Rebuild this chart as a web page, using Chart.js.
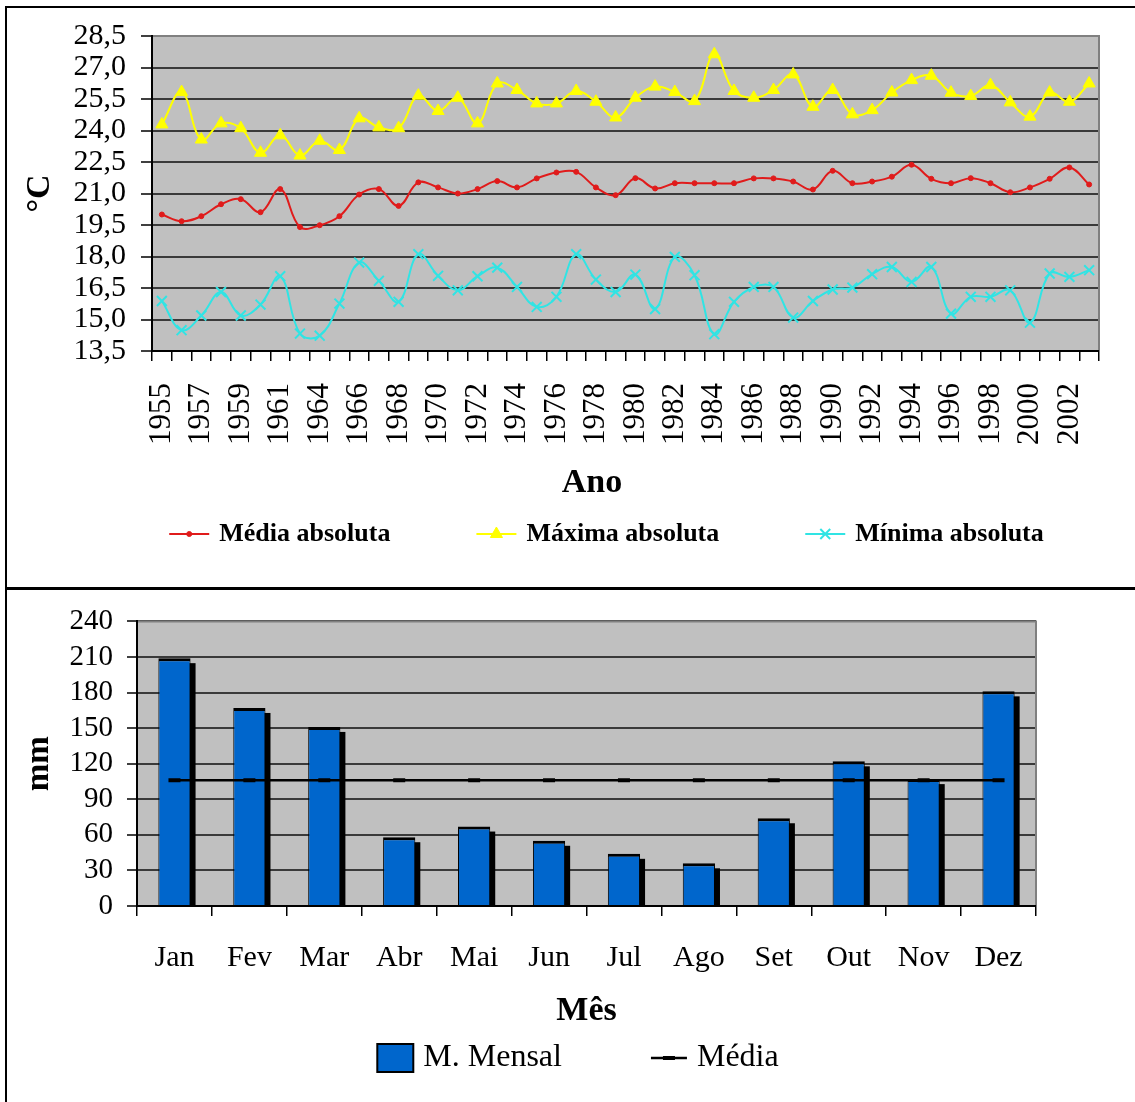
<!DOCTYPE html>
<html>
<head>
<meta charset="utf-8">
<script src="https://cdn.jsdelivr.net/npm/chart.js"></script>
<style>
html,body{margin:0;padding:0;background:#fff;width:1135px;height:1102px;overflow:hidden;position:relative;}
canvas{position:absolute;left:0;}
#c1{top:0;}
#c2{top:590px;}
.ln{position:absolute;background:#000;z-index:5;}
</style>
</head>
<body>
<canvas id="c1" width="1135" height="589" style="width:1135px;height:589px"></canvas>
<canvas id="c2" width="1135" height="512" style="width:1135px;height:512px"></canvas>
<div class="ln" style="left:5px;top:6px;width:1130px;height:2px"></div>
<div class="ln" style="left:5px;top:6px;width:2px;height:1096px"></div>
<div class="ln" style="left:5px;top:587px;width:1130px;height:3px"></div>
<script>
// ---------- data ----------
const years = [1955,1956,1957,1958,1959,1960,1961,1963,1964,1965,1966,1967,1968,1969,1970,1971,1972,1973,1974,1975,1976,1977,1978,1979,1980,1981,1982,1983,1984,1985,1986,1987,1988,1989,1990,1991,1992,1993,1994,1995,1996,1997,1998,1999,2000,2001,2002,2003];
const mediaAbsoluta = [20.00,19.68,19.92,20.49,20.73,20.11,21.21,19.40,19.49,19.92,20.95,21.21,20.41,21.53,21.29,21.00,21.21,21.59,21.29,21.72,22.00,22.03,21.29,20.92,21.73,21.24,21.49,21.49,21.49,21.49,21.72,21.72,21.57,21.19,22.08,21.49,21.57,21.80,22.37,21.70,21.49,21.73,21.49,21.06,21.29,21.70,22.24,21.43];
const maximaAbsoluta = [24.29,25.83,23.57,24.34,24.11,22.94,23.77,22.81,23.51,23.07,24.58,24.15,24.11,25.66,24.93,25.56,24.34,26.24,25.93,25.29,25.29,25.88,25.37,24.62,25.56,26.09,25.83,25.40,27.63,25.88,25.56,25.93,26.67,25.13,25.93,24.77,24.97,25.81,26.40,26.61,25.80,25.64,26.16,25.34,24.66,25.81,25.37,26.24];
const minimaAbsoluta = [15.88,14.49,15.19,16.31,15.19,15.71,17.06,14.33,14.23,15.76,17.71,16.84,15.84,18.11,17.08,16.39,17.06,17.47,16.55,15.60,16.08,18.11,16.90,16.31,17.14,15.50,17.98,17.11,14.30,15.84,16.55,16.55,15.09,15.88,16.43,16.52,17.16,17.50,16.79,17.50,15.28,16.08,16.08,16.39,14.85,17.19,17.03,17.35];
const tempTicks = ['13,5','15,0','16,5','18,0','19,5','21,0','22,5','24,0','25,5','27,0','28,5'];

const months = ['Jan','Fev','Mar','Abr','Mai','Jun','Jul','Ago','Set','Out','Nov','Dez'];
const mensal = [209,167,151,58,67,55,44,36,74,122,107,181];
const mediaMensal = [106,106,106,106,106,106,106,106,106,106,106,106];
const rainTicks = ['0','30','60','90','120','150','180','210','240'];

// ---------- style ----------
const SERIF = "'Liberation Serif', 'Times New Roman', serif";
Chart.defaults.font.family = SERIF;
Chart.defaults.color = '#000';
const RED = '#e01b1b', YEL = '#ffff00', CYA = '#30e4e4', BLUE = '#0066cc';
const GRID = '#3a3a3a';

// ---------- plugins ----------
const plotBg = {
  id: 'plotBg',
  beforeDraw(chart, args, o) {
    const {ctx, chartArea: a} = chart;
    ctx.save(); ctx.fillStyle = o.color; ctx.fillRect(a.left, a.top, a.width, a.height); ctx.restore();
  },
  beforeDatasetsDraw(chart, args, o) {
    const {ctx, chartArea: a} = chart;
    ctx.save(); ctx.strokeStyle = o.border; ctx.lineWidth = 2;
    ctx.beginPath(); ctx.moveTo(a.left + 1, a.top); ctx.lineTo(a.right, a.top); ctx.lineTo(a.right, a.bottom - 1); ctx.stroke();
    ctx.restore();
  }
};
const nudge = {
  id: 'nudge',
  afterLayout(chart, args, o) {
    const lg = chart.legend;
    if (lg && o.legendDx) { lg.left += o.legendDx; lg.right += o.legendDx; }
    const tb = chart.titleBlock;
    if (tb && o.titleDx) { tb.left += o.titleDx; tb.right += o.titleDx; }
  }
};
const hideBoxes = (chart) => Chart.defaults.plugins.legend.labels.generateLabels(chart)
  .map(l => Object.assign(l, {fillStyle: 'rgba(0,0,0,0)', strokeStyle: 'rgba(0,0,0,0)', lineWidth: 0}));
const legendSymbols = {
  id: 'legendSymbols',
  afterDraw(chart, args, o) {
    const lg = chart.legend;
    if (!lg || !lg.legendHitBoxes || !lg.legendItems) return;
    const lab = lg.options.labels;
    const fs = Chart.helpers.toFont(lab.font).size;
    const ctx = chart.ctx;
    lg.legendItems.forEach((item, i) => {
      const hb = lg.legendHitBoxes[i];
      if (!hb) return;
      const ds = chart.data.datasets[item.datasetIndex];
      const meta = chart.getDatasetMeta(item.datasetIndex);
      const textX = hb.left + lab.boxWidth + fs / 2;
      const x2 = textX - o.gap, x1 = x2 - o.width, cx = (x1 + x2) / 2, cy = hb.top + hb.height / 2;
      ctx.save();
      if (meta.type === 'bar') {
        ctx.fillStyle = ds.backgroundColor;
        ctx.fillRect(x1, cy - o.height / 2, o.width, o.height);
        ctx.strokeStyle = '#000'; ctx.lineWidth = 2;
        ctx.strokeRect(x1, cy - o.height / 2, o.width, o.height);
      } else {
        ctx.strokeStyle = ds.borderColor; ctx.lineWidth = ds.borderWidth;
        ctx.beginPath(); ctx.moveTo(x1, cy); ctx.lineTo(x2, cy); ctx.stroke();
        ctx.fillStyle = ds.pointBackgroundColor; ctx.strokeStyle = ds.pointBorderColor; ctx.lineWidth = ds.pointBorderWidth;
        Chart.helpers.drawPoint(ctx, {pointStyle: ds.pointStyle, radius: ds.pointRadius, rotation: 0, borderWidth: ds.pointBorderWidth}, cx, cy);
      }
      ctx.restore();
    });
  }
};
// 3-D style drop shadow behind each bar, taken from the bar elements' own geometry
const barShadow = {
  id: 'barShadow',
  beforeDatasetDraw(chart, args, o) {
    if (args.meta.type !== 'bar') return;
    const ctx = chart.ctx, a = chart.chartArea;
    ctx.save();
    ctx.beginPath(); ctx.rect(a.left, a.top, a.width, a.height); ctx.clip();
    ctx.fillStyle = o.color;
    args.meta.data.forEach(el => {
      const p = el.getProps(['x', 'y', 'base', 'width'], true);
      const top = Math.min(p.y, p.base) + o.dy;
      const bottom = Math.max(p.y, p.base);
      ctx.fillRect(p.x - p.width / 2 + o.dx, top, p.width, bottom - top);
    });
    ctx.restore();
  }
};

// ---------- chart 1: temperatures ----------
new Chart(document.getElementById('c1'), {
  type: 'line',
  data: {
    labels: years,
    datasets: [
      {label: 'Média absoluta', data: mediaAbsoluta, borderColor: RED, backgroundColor: RED, borderWidth: 2,
       pointStyle: 'circle', pointRadius: 2.5, pointBackgroundColor: RED, pointBorderColor: RED, pointBorderWidth: 1, tension: 0.4},
      {label: 'Máxima absoluta', data: maximaAbsoluta, borderColor: YEL, backgroundColor: YEL, borderWidth: 2,
       pointStyle: 'triangle', pointRadius: 7, pointBackgroundColor: YEL, pointBorderColor: YEL, pointBorderWidth: 1, tension: 0.4},
      {label: 'Mínima absoluta', data: minimaAbsoluta, borderColor: CYA, backgroundColor: CYA, borderWidth: 2,
       pointStyle: 'crossRot', pointRadius: 7, pointBackgroundColor: CYA, pointBorderColor: CYA, pointBorderWidth: 2, tension: 0.4}
    ]
  },
  options: {
    responsive: false, animation: false, events: [],
    layout: {padding: {top: 36, right: 36, bottom: 32, left: 0}},
    scales: {
      x: {
        offset: true,
        grid: {offset: true, drawOnChartArea: false, drawTicks: true, tickLength: 10, color: '#000', lineWidth: 1.5},
        border: {color: '#000', width: 2},
        ticks: {autoSkip: false, minRotation: 90, maxRotation: 90, padding: 22, color: '#000',
                font: {size: 31}, callback: (v, i) => (i % 2 === 0 ? String(years[i]) : '')},
        afterFit: (s) => { s.height = 100; s.paddingLeft = 0; s.paddingRight = 0; }
      },
      y: {
        min: 13.5, max: 28.5,
        grid: {color: GRID, lineWidth: 2, tickLength: 11, tickColor: '#000', tickWidth: 1.5},
        border: {color: '#000', width: 2},
        ticks: {autoSkip: false, stepSize: 1.5, padding: 15, color: '#000', font: {size: 30},
                callback: (v, i) => tempTicks[i] !== undefined ? tempTicks[i] : v},
        title: {display: true, text: '°C', color: '#000', font: {size: 34, weight: 'bold'}, padding: {top: 19.6, bottom: 0}},
        afterFit: (s) => { s.width = 152; }
      }
    },
    plugins: {
      tooltip: {enabled: false},
      title: {display: true, text: 'Ano', position: 'bottom', weight: 500, fullSize: true, color: '#000',
              font: {size: 34, weight: 'bold'}, padding: {top: 11.6, bottom: 7.6}},
      legend: {position: 'bottom', fullSize: true,
               labels: {boxWidth: 113, boxHeight: 4, padding: 10, color: '#000', font: {size: 26, weight: 'bold'}, generateLabels: hideBoxes}},
      plotBg: {color: '#c0c0c0', border: '#808080'},
      nudge: {legendDx: 19, titleDx: 42.5},
      legendSymbols: {width: 40, height: 4, gap: 10}
    }
  },
  plugins: [plotBg, nudge, legendSymbols]
});

// ---------- chart 2: monthly rainfall ----------
new Chart(document.getElementById('c2'), {
  type: 'bar',
  data: {
    labels: months,
    datasets: [
      {type: 'bar', label: 'M. Mensal', data: mensal, backgroundColor: BLUE, borderColor: '#000',
       borderWidth: {top: 3, left: 1, right: 1, bottom: 0}, borderSkipped: false,
       barPercentage: 0.43, categoryPercentage: 1, order: 2},
      {type: 'line', label: 'Média', data: mediaMensal, borderColor: '#000', backgroundColor: '#000', borderWidth: 2.5,
       pointStyle: 'line', pointRadius: 6, pointBorderWidth: 4, pointBorderColor: '#000', pointBackgroundColor: '#000', tension: 0, order: 1}
    ]
  },
  options: {
    responsive: false, animation: false, events: [],
    layout: {padding: {top: 22, right: 99, bottom: 18, left: 0}},
    scales: {
      x: {
        grid: {offset: true, drawOnChartArea: false, drawTicks: true, tickLength: 10, color: '#000', lineWidth: 1.5},
        border: {color: '#000', width: 2},
        ticks: {padding: 24, color: '#000', font: {size: 30}},
        title: {display: true, text: 'Mês', color: '#000', font: {size: 34, weight: 'bold'}, padding: {top: 0, bottom: 0}},
        afterFit: (s) => { s.height = 126; s.paddingLeft = 0; s.paddingRight = 0; }
      },
      y: {
        min: 0, max: 240,
        grid: {color: GRID, lineWidth: 2, tickLength: 10, tickColor: '#000', tickWidth: 1.5},
        border: {color: '#000', width: 2},
        ticks: {autoSkip: false, stepSize: 30, padding: 14, color: '#000', font: {size: 29},
                callback: (v, i) => rainTicks[i] !== undefined ? rainTicks[i] : v},
        title: {display: true, text: 'mm', color: '#000', font: {size: 33, weight: 'bold'}, padding: {top: 20, bottom: 0}},
        afterFit: (s) => { s.width = 137; }
      }
    },
    plugins: {
      tooltip: {enabled: false},
      legend: {position: 'bottom', fullSize: false,
               labels: {boxWidth: 109, boxHeight: 4, padding: 10, color: '#000', font: {size: 32},
                        generateLabels: hideBoxes, sort: (a, b) => a.datasetIndex - b.datasetIndex}},
      plotBg: {color: '#c0c0c0', border: '#808080'},
      nudge: {legendDx: -48},
      legendSymbols: {width: 36, height: 28, gap: 10},
      barShadow: {color: '#000', dx: 5, dy: 5}
    }
  },
  plugins: [plotBg, nudge, legendSymbols, barShadow]
});
</script>
</body>
</html>
